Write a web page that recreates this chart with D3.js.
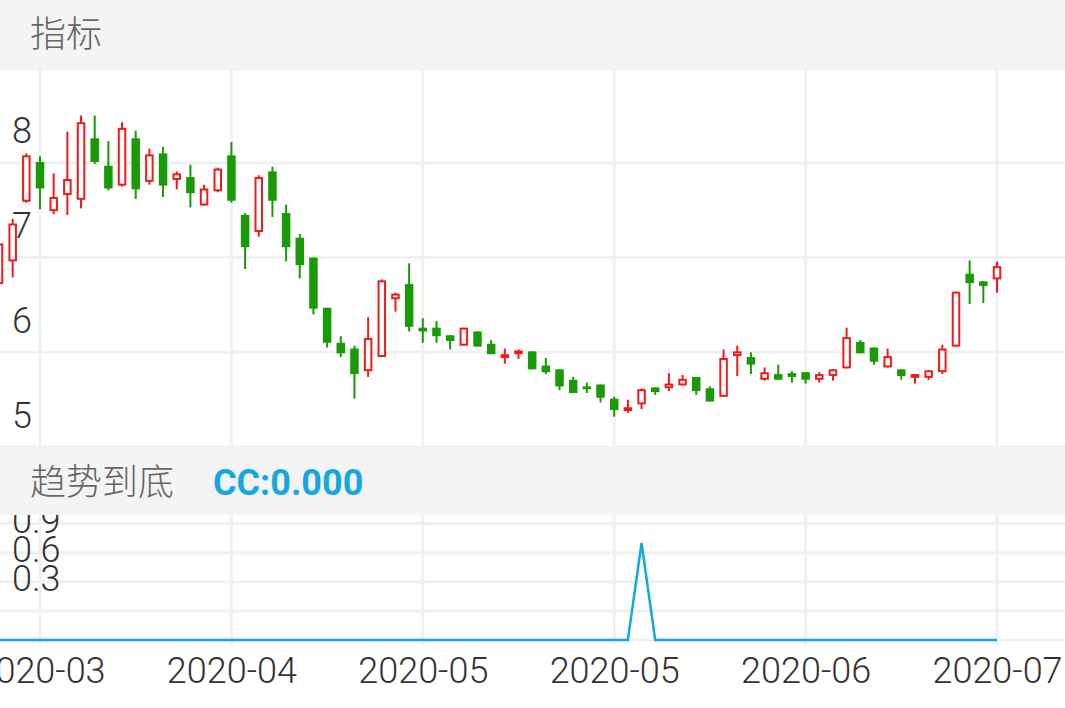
<!DOCTYPE html>
<html><head><meta charset="utf-8">
<script src="https://cdn.jsdelivr.net/npm/d3@7"></script>
<style>
html,body{margin:0;padding:0;background:#fff;overflow:hidden}
svg{display:block}
</style></head><body>
<svg id="chart" width="1065" height="708"></svg>
<script>
// ---- data ----
const dates = [
"2020-03-18","2020-03-19","2020-03-20","2020-03-23","2020-03-24","2020-03-25","2020-03-26","2020-03-27","2020-03-30","2020-03-31",
"2020-04-01","2020-04-02","2020-04-03","2020-04-07","2020-04-08","2020-04-09","2020-04-10","2020-04-13","2020-04-14","2020-04-15",
"2020-04-16","2020-04-17","2020-04-20","2020-04-21","2020-04-22","2020-04-23","2020-04-24","2020-04-27","2020-04-28","2020-04-29",
"2020-04-30","2020-05-06","2020-05-07","2020-05-08","2020-05-11","2020-05-12","2020-05-13","2020-05-14","2020-05-15","2020-05-18",
"2020-05-19","2020-05-20","2020-05-21","2020-05-22","2020-05-25","2020-05-26","2020-05-27","2020-05-28","2020-05-29","2020-06-01",
"2020-06-02","2020-06-03","2020-06-04","2020-06-05","2020-06-08","2020-06-09","2020-06-10","2020-06-11","2020-06-12","2020-06-15",
"2020-06-16","2020-06-17","2020-06-18","2020-06-19","2020-06-22","2020-06-23","2020-06-24","2020-06-29","2020-06-30","2020-07-01",
"2020-07-02","2020-07-03","2020-07-06","2020-07-07"];
const openP = [
6.72,6.96,7.59,8.01,7.49,7.66,7.61,8.26,7.97,7.76,
8.26,7.80,8.10,7.82,7.85,7.55,7.70,8.08,7.45,7.27,
7.91,7.47,7.21,7.00,6.47,6.10,6.04,5.80,5.95,6.56,
6.72,6.26,6.26,6.18,6.07,6.22,6.09,5.94,5.98,6.01,
5.86,5.82,5.71,5.64,5.66,5.51,5.38,5.45,5.63,5.62,
5.65,5.74,5.62,5.53,5.96,5.95,5.71,5.77,5.78,5.79,
5.71,5.75,5.83,6.11,6.05,5.84,5.82,5.73,5.73,5.79,
6.06,6.83,6.75,6.77];
const highP = [
7.17,7.41,8.10,8.07,7.89,8.33,8.50,8.50,8.23,8.43,
8.34,8.15,8.17,7.91,7.98,7.77,7.95,8.22,7.47,7.87,
7.96,7.56,7.25,7.00,6.47,6.17,6.07,6.37,6.77,6.63,
6.94,6.36,6.33,6.18,6.26,6.22,6.13,6.04,6.03,6.01,
5.94,5.82,5.74,5.68,5.66,5.53,5.50,5.62,5.63,5.78,
5.76,5.74,5.64,6.03,6.07,6.00,5.84,5.87,5.80,5.79,
5.79,5.82,6.26,6.13,6.05,6.04,5.82,5.77,5.81,6.08,
6.64,6.97,6.75,6.96];
const lowP = [
6.69,6.79,7.58,7.51,7.46,7.45,7.52,7.99,7.71,7.75,
7.62,7.77,7.64,7.72,7.53,7.55,7.69,7.58,6.88,7.22,
7.43,6.96,6.78,6.40,6.05,5.95,5.51,5.74,5.95,6.43,
6.22,6.10,6.10,6.03,6.07,6.06,5.98,5.88,5.93,5.82,
5.77,5.60,5.57,5.57,5.47,5.32,5.36,5.40,5.55,5.59,
5.65,5.55,5.48,5.53,5.75,5.77,5.70,5.71,5.68,5.67,
5.68,5.70,5.83,5.99,5.87,5.84,5.71,5.67,5.71,5.77,
6.06,6.51,6.52,6.63];
const closeP = [
7.15,7.36,8.08,7.73,7.64,7.83,8.43,8.01,7.73,8.37,
7.72,8.09,7.76,7.89,7.68,7.73,7.94,7.60,7.11,7.85,
7.60,7.11,6.92,6.46,6.10,5.99,5.77,6.15,6.76,6.62,
6.27,6.22,6.17,6.12,6.26,6.06,5.98,5.98,6.02,5.82,
5.79,5.64,5.57,5.61,5.52,5.39,5.42,5.61,5.58,5.67,
5.72,5.59,5.48,5.94,6.01,5.87,5.79,5.71,5.74,5.71,
5.77,5.82,6.16,5.99,5.90,5.96,5.75,5.77,5.81,6.04,
6.64,6.73,6.70,6.91];
const ccValues = [
0,0,0,0,0,0,0,0,0,0, 0,0,0,0,0,0,0,0,0,0,
0,0,0,0,0,0,0,0,0,0, 0,0,0,0,0,0,0,0,0,0,
0,0,0,0,0,0,0,1,0,0, 0,0,0,0,0,0,0,0,0,0,
0,0,0,0,0,0,0,0,0,0, 0,0,0,0];
const priceTicks = [5,6,7,8];
const priceGrid = [5,6,7,8,9];
const ccTicks = [0.3,0.6,0.9];
const ccGrid = [0,0.3,0.6,0.9,1.2];
const dateTicks = ["2020-03-23","2020-04-13","2020-05-06","2020-05-26","2020-06-15","2020-07-07"];
const title1 = "指标";
const title2 = "趋势到底";
const ccLabel = "CC:" + d3.format(".3f")(ccValues[ccValues.length-1]);

// ---- layout ----
const W = 1065, H = 708;
const RED = "#ef1c1c", GREEN = "#1a9a06", BLUE = "#14a8e1", GRID = "#f0f0f2", BAND = "#f4f4f5";
const FONT = "Roboto, 'Noto Sans CJK SC', sans-serif";
const top1 = 68, bot1 = 447, top2 = 515, bot2 = 645;

const svg = d3.select("#chart");
const x = d3.scalePoint().domain(dates).range([-1, 997]);
const y = d3.scaleLinear().domain([5, 9]).range([447, 68.2]);
const y2 = d3.scaleLinear().domain([0, 1]).range([640, 543]);

// gridlines
const g = svg.append("g");
g.selectAll(".hg1").data(priceGrid).join("line")
  .attr("x1", 0).attr("x2", W).attr("y1", d => y(d)).attr("y2", d => y(d))
  .attr("stroke", GRID).attr("stroke-width", 3);
g.selectAll(".hg2").data(ccGrid).join("line")
  .attr("x1", 0).attr("x2", W).attr("y1", d => y2(d)).attr("y2", d => y2(d))
  .attr("stroke", GRID).attr("stroke-width", 3);
g.selectAll(".vg1").data(dateTicks).join("line")
  .attr("x1", d => x(d)).attr("x2", d => x(d)).attr("y1", top1).attr("y2", bot1)
  .attr("stroke", GRID).attr("stroke-width", 3);
g.selectAll(".vg2").data(dateTicks).join("line")
  .attr("x1", d => x(d)).attr("x2", d => x(d)).attr("y1", top2).attr("y2", bot2)
  .attr("stroke", GRID).attr("stroke-width", 3);

// y axis labels
const ya = svg.append("g").attr("transform", "translate(12,0)")
  .call(d3.axisRight(y).tickValues(priceTicks).tickSize(0).tickPadding(0).tickFormat(d3.format("d")));
const ya2 = svg.append("g").attr("transform", "translate(12,0)")
  .call(d3.axisRight(y2).tickValues(ccTicks).tickSize(0).tickPadding(0).tickFormat(d3.format(".1f")));
[ya, ya2].forEach(a => {
  a.select(".domain").remove();
  a.selectAll("text").attr("dy", -20).attr("fill", "#333")
    .style("font-family", FONT).style("font-size", "36px").style("font-weight", 300);
});

// candles
const idx = d3.range(dates.length);
const bw = 8.5;
const cg = svg.append("g");
const candle = cg.selectAll("g.c").data(idx).join("g");
candle.append("line")
  .attr("x1", i => x(dates[i])).attr("x2", i => x(dates[i]))
  .attr("y1", i => y(highP[i])).attr("y2", i => y(lowP[i]))
  .attr("stroke", i => closeP[i] >= openP[i] ? RED : GREEN).attr("stroke-width", 2);
candle.append("rect")
  .attr("x", i => closeP[i] >= openP[i] ? x(dates[i]) - bw/2 + 1 : x(dates[i]) - bw/2)
  .attr("width", i => closeP[i] >= openP[i] ? bw - 2 : bw)
  .attr("y", i => closeP[i] >= openP[i] ? y(closeP[i]) + 1 : y(openP[i]))
  .attr("height", i => closeP[i] >= openP[i]
      ? Math.max(0.5, y(openP[i]) - y(closeP[i]) - 2)
      : Math.max(1.5, y(closeP[i]) - y(openP[i])))
  .attr("fill", i => closeP[i] >= openP[i] ? "#fff" : GREEN)
  .attr("stroke", i => closeP[i] >= openP[i] ? RED : "none")
  .attr("stroke-width", 2);

// CC line
svg.append("path").datum(idx)
  .attr("d", d3.line().x(i => x(dates[i])).y(i => y2(ccValues[i])))
  .attr("fill", "none").attr("stroke", BLUE).attr("stroke-width", 2.5);

// bands
svg.append("rect").attr("x", 0).attr("y", 0).attr("width", W).attr("height", top1).attr("fill", BAND);
svg.append("rect").attr("x", 0).attr("y", bot1).attr("width", W).attr("height", top2 - bot1).attr("fill", BAND);
svg.append("text").attr("x", 30).attr("y", 35).attr("dominant-baseline", "central")
  .attr("fill", "#666").style("font-family", FONT).style("font-size", "36px").style("font-weight", 300).text(title1);
svg.append("text").attr("x", 30).attr("y", 483).attr("dominant-baseline", "central")
  .attr("fill", "#666").style("font-family", FONT).style("font-size", "36px").style("font-weight", 300).text(title2);
svg.append("text").attr("x", 213).attr("y", 483).attr("dominant-baseline", "central")
  .attr("fill", BLUE).style("font-family", FONT).style("font-size", "36px").style("font-weight", "bold").text(ccLabel);

// x axis
const xa = svg.append("g").attr("transform", "translate(0,683)")
  .call(d3.axisBottom(x).tickValues(dateTicks).tickSize(0).tickPadding(0).tickFormat(d => d.slice(0, 7)));
xa.select(".domain").remove();
xa.selectAll("text").attr("y", 0).attr("dy", 0).attr("fill", "#333")
  .style("font-family", FONT).style("font-size", "36px").style("font-weight", 300);
</script>
</body></html>
